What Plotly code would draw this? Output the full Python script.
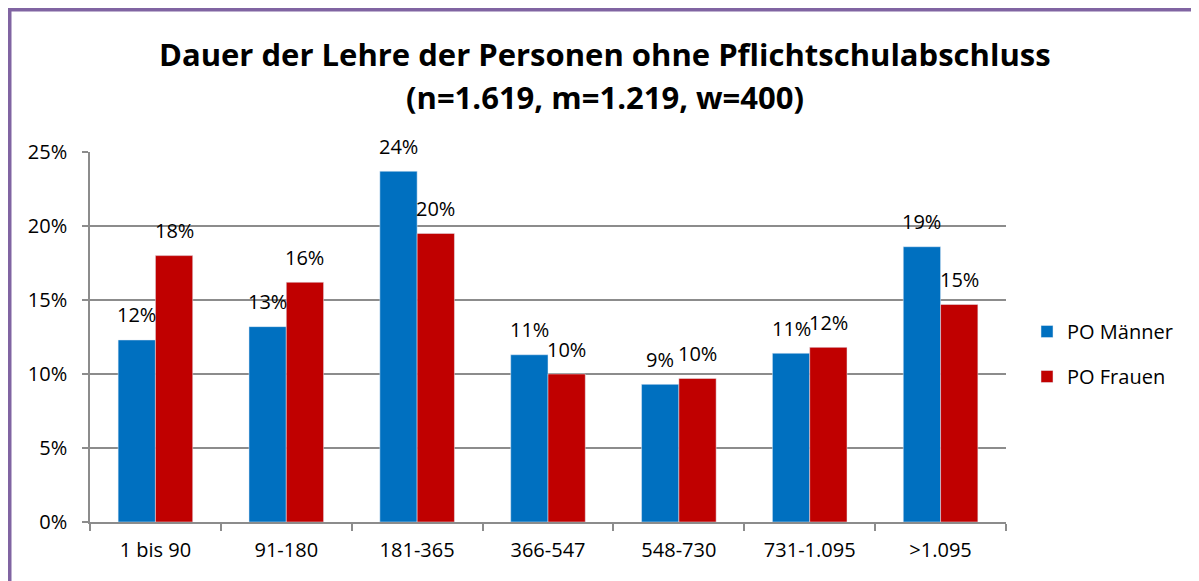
import plotly.graph_objects as go

categories = ["1 bis 90", "91-180", "181-365", "366-547", "548-730", "731-1.095", ">1.095"]
maenner = [0.123, 0.132, 0.237, 0.113, 0.093, 0.114, 0.186]
frauen = [0.180, 0.162, 0.195, 0.100, 0.097, 0.118, 0.147]
series_names = ["PO Männer", "PO Frauen"]
y_ticks = [0, 0.05, 0.10, 0.15, 0.20, 0.25]

OFF = 8  # page body margin
W, H = 1199, 581
# desired screen-pixel positions of plot area
SX0, SX1, SY0, SY1 = 90, 1006, 152, 522
ML = SX0 - OFF
MT = SY0 - OFF
MR = W - (SX1 - OFF)
MB = H - (SY1 - OFF)
plot_w = SX1 - SX0
plot_h = SY1 - SY0
BARGAP = 0.43
FONT = "Open Sans"
FS = 20
BLUE = "#0070C0"
RED = "#C00000"
GRID = "#8C8C8C"


def px_x(p):
    return (p - SX0) / plot_w


def px_y(p):
    return (SY1 - p) / plot_h


fig = go.Figure()
fig.add_trace(go.Bar(x=categories, y=maenner, name=series_names[0], marker_color=BLUE,
                     legendgroup="m"))
fig.add_trace(go.Bar(x=categories, y=frauen, name=series_names[1], marker_color=RED,
                     legendgroup="f"))

cat_px = plot_w / len(categories)
half = (1 - BARGAP) / 4 * cat_px
annotations = []
for vals, sh in ((maenner, -half), (frauen, half)):
    for c, v in zip(categories, vals):
        annotations.append(dict(x=c, y=v, xref="x", yref="y", text=f"{v*100:.0f}%",
                                showarrow=False, xshift=sh, yshift=25, yanchor="middle",
                                font=dict(family=FONT, size=FS, color="black")))

for txt, ypx in (("<b>Dauer der Lehre der Personen ohne Pflichtschulabschluss</b>", 54),
                 ("<b>(n=1.619, m=1.219, w=400)</b>", 97)):
    annotations.append(dict(x=px_x(605), y=px_y(ypx), xref="paper", yref="paper", text=txt,
                            showarrow=False, font=dict(family=FONT, size=31, color="black"),
                            xanchor="center", yanchor="middle"))

PURPLE = "#8064A2"
shapes = [
    dict(type="line", xref="paper", yref="paper", x0=px_x(9.5), x1=px_x(1198), y0=px_y(9.5), y1=px_y(9.5),
         line=dict(color=PURPLE, width=4)),
    dict(type="line", xref="paper", yref="paper", x0=px_x(9.5), x1=px_x(9.5), y0=px_y(7.5), y1=px_y(600),
         line=dict(color=PURPLE, width=4)),
    dict(type="line", xref="paper", yref="paper", x0=px_x(1197.5), x1=px_x(1197.5), y0=px_y(11), y1=px_y(600),
         line=dict(color="#CDBEE0", width=1.5)),
]

fig.update_layout(
    width=W, height=H,
    margin=dict(l=ML, r=MR, t=MT, b=MB, autoexpand=False),
    paper_bgcolor="white", plot_bgcolor="white",
    barmode="group", bargap=BARGAP, bargroupgap=0,
    font=dict(family=FONT, size=FS, color="black"),
    showlegend=True,
    legend=dict(x=px_x(1027), y=px_y(354), xanchor="left", yanchor="middle",
                traceorder="grouped", tracegroupgap=16,
                font=dict(family=FONT, size=FS, color="black"),
                bgcolor="rgba(0,0,0,0)", itemwidth=30),
    annotations=annotations,
    shapes=shapes,
)
fig.update_xaxes(type="category", showline=True, linecolor=GRID, linewidth=1.5,
                 ticks="outside", tickson="boundaries", ticklen=7, tickcolor=GRID, tickwidth=1.5,
                 ticklabelstandoff=9, tickfont=dict(family=FONT, size=FS, color="black"),
                 showgrid=False, fixedrange=True)
fig.update_yaxes(range=[0, 0.25], tickvals=y_ticks, tickformat=".0%", showline=True,
                 linecolor=GRID, linewidth=1.5, ticks="outside", ticklen=6, tickcolor=GRID,
                 tickwidth=1.5, showgrid=True, gridcolor=GRID, gridwidth=1.5,
                 ticklabelstandoff=11, tickfont=dict(family=FONT, size=FS, color="black"),
                 zeroline=False, fixedrange=True)

fig.write_html("out.html")
